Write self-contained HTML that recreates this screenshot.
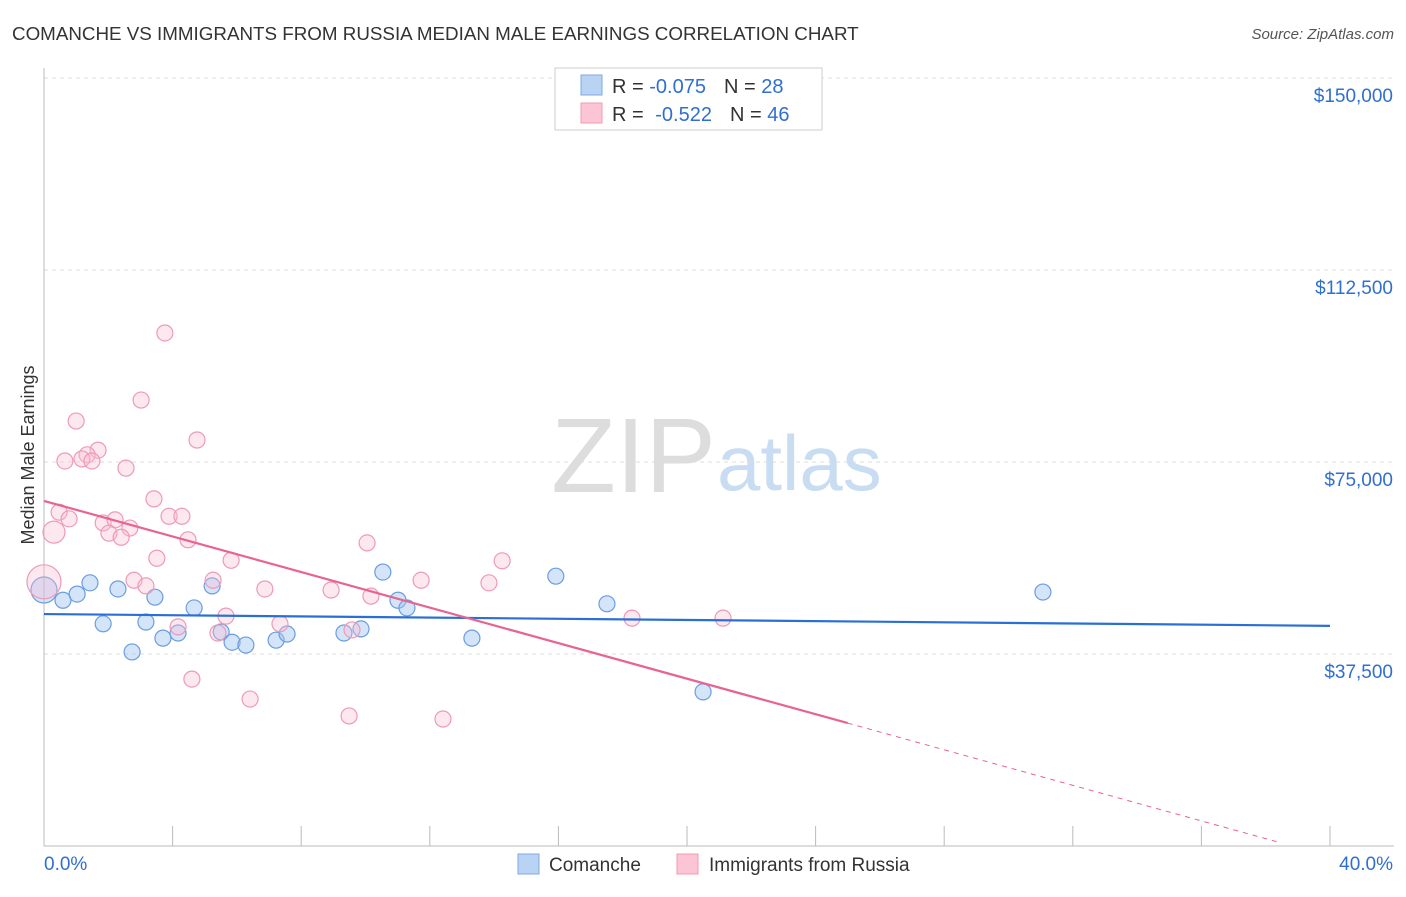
<!DOCTYPE html>
<html><head><meta charset="utf-8"><style>
body{margin:0;background:#fff;font-family:"Liberation Sans",sans-serif;}
svg text{font-family:"Liberation Sans",sans-serif;}
</style></head><body>
<svg id="chart" width="1406" height="892">
<text x="12" y="40" font-size="18.8" fill="#333">COMANCHE VS IMMIGRANTS FROM RUSSIA MEDIAN MALE EARNINGS CORRELATION CHART</text>
<text x="1394" y="39" font-size="15" fill="#555" text-anchor="end" font-style="italic">Source: ZipAtlas.com</text>
<text x="0" y="0" transform="translate(34,455) rotate(-90)" font-size="18" fill="#333" text-anchor="middle">Median Male Earnings</text>
<text x="716" y="492" font-size="106" fill="#ddd" text-anchor="end" font-family="Liberation Serif">ZIP</text>
<text x="717" y="490" font-size="78" fill="#c8dcf2">atlas</text>
<g id="grid"></g><g id="pts"></g><g id="lines"></g>
<g>
<rect x="555" y="68" width="267" height="62" fill="#fff" stroke="#ccc"/>
<rect x="581" y="75" width="21" height="20" fill="#b9d3f5" stroke="#7fa9e0"/>
<rect x="581" y="103" width="21" height="20" fill="#fbc5d5" stroke="#f099b3"/>
<text x="612" y="93" font-size="20" fill="#333">R = <tspan fill="#2f6fd0">-0.075</tspan><tspan dx="18">N = </tspan><tspan fill="#2f6fd0">28</tspan></text>
<text x="612" y="121" font-size="20" fill="#333">R = <tspan fill="#2f6fd0" dx="6">-0.522</tspan><tspan dx="18">N = </tspan><tspan fill="#2f6fd0">46</tspan></text>
</g>
<g>
<rect x="518" y="854" width="21" height="20" fill="#b9d3f5" stroke="#7fa9e0"/>
<text x="549" y="871" font-size="19" fill="#333">Comanche</text>
<text x="709" y="871" font-size="19" fill="#333">Immigrants from Russia</text>
<rect x="677" y="854" width="21" height="20" fill="#fbc5d5" stroke="#f099b3"/>
</g>
</svg>
<script>
const yTicks=[37500,75000,112500,150000];
const yTickLabels=["$37,500","$75,000","$112,500","$150,000"];
const blueX=[0,0.59,1.03,1.43,1.84,2.30,2.74,3.17,3.45,3.70,4.17,4.67,5.23,5.51,5.85,6.28,7.22,7.56,9.33,9.86,10.54,11.01,11.29,13.31,15.92,17.51,20.50,31.07];
const blueY=[50000,48000,49200,51400,43400,50200,37900,43750,48600,40600,41600,46500,50800,41800,39800,39250,40200,41400,41600,42400,53500,48000,46500,40600,52700,47300,30100,49600];
const pinkX=[3.76,3.02,1.00,4.76,1.68,1.34,1.18,0.65,1.49,2.55,3.42,0.47,0.78,3.89,4.29,1.84,2.21,2.67,2.02,2.40,0.31,4.48,10.05,3.51,5.82,14.25,11.73,13.84,2.80,3.17,5.26,6.87,8.93,10.17,5.66,4.17,7.34,5.41,9.58,18.29,21.12,4.60,6.41,9.49,12.41,0];
const pinkY=[100200,87100,83000,79300,77300,76400,75600,75200,75200,73800,67800,65200,63900,64400,64400,63100,63700,62100,61100,60300,61300,59800,59200,56200,55800,55700,51900,51400,51900,50800,51900,50200,50000,48800,44900,42800,43400,41600,42200,44500,44500,32600,28700,25400,24800,51600];
const blueTrend=[45300,43000];
const pinkTrend=[67400,-1736];
const NS="http://www.w3.org/2000/svg";
const X=v=>44+v/40*1286, Y=v=>846-v/37500*192;
function mk(t,a,p){const e=document.createElementNS(NS,t);for(const k in a)e.setAttribute(k,a[k]);document.getElementById(p).appendChild(e);return e;}
yTicks.forEach((t,i)=>{
 const l=mk('line',{x1:44,x2:1394,y1:Y(t),y2:Y(t),stroke:'#ddd','stroke-dasharray':'4,4'},'grid');
 
 
 const tx=mk('text',{x:1393,y:Y(t)+24,'font-size':19,fill:'#2f6fd0','text-anchor':'end'},'grid');
 tx.textContent=yTickLabels[i];
 
 
});
const ax=mk('line',{x1:44,x2:44,y1:68,y2:846,stroke:'#bbb'},'grid');


const bx=mk('line',{x1:44,x2:1394,y1:846,y2:846,stroke:'#bbb'},'grid');


for(let i=1;i<=10;i++){const t=mk('line',{x1:X(i*4),x2:X(i*4),y1:826,y2:846,stroke:'#bbb'},'grid');
 
 }
[['0.0%',44,'start'],['40.0%',1393,'end']].forEach(([s,x,a])=>{const t=mk('text',{x:x,y:870,'font-size':19,fill:'#2f6fd0','text-anchor':a},'grid');t.textContent=s;
 
 });
blueX.forEach((v,i)=>{const c=mk('circle',{cx:X(v),cy:Y(blueY[i]),r:i==0?13:8,fill:'rgba(160,196,242,0.45)',stroke:'#6b9de0','stroke-width':1.2},'pts');
 
 });
pinkX.forEach((v,i)=>{const big=i==45?17:(i==20?11:8);const c=mk('circle',{cx:X(v),cy:Y(pinkY[i]),r:big,fill:'rgba(250,190,208,0.35)',stroke:'#ee9ab5','stroke-width':1.2},'pts');
 
 });
const bl=mk('line',{x1:X(0),y1:Y(blueTrend[0]),x2:X(40),y2:Y(blueTrend[1]),stroke:'#2a6fd6','stroke-width':2.2},'lines');


const pv=x=>pinkTrend[0]+pinkTrend[1]*x;
const pl=mk('line',{x1:X(0),y1:Y(pv(0)),x2:X(25),y2:Y(pv(25)),stroke:'#e8638f','stroke-width':2.2},'lines');


const pd=mk('line',{x1:X(25),y1:Y(pv(25)),x2:X(38.4),y2:Y(pv(38.4)),stroke:'#e8638f','stroke-width':1,'stroke-dasharray':'5,5'},'lines');


</script>
</body></html>
